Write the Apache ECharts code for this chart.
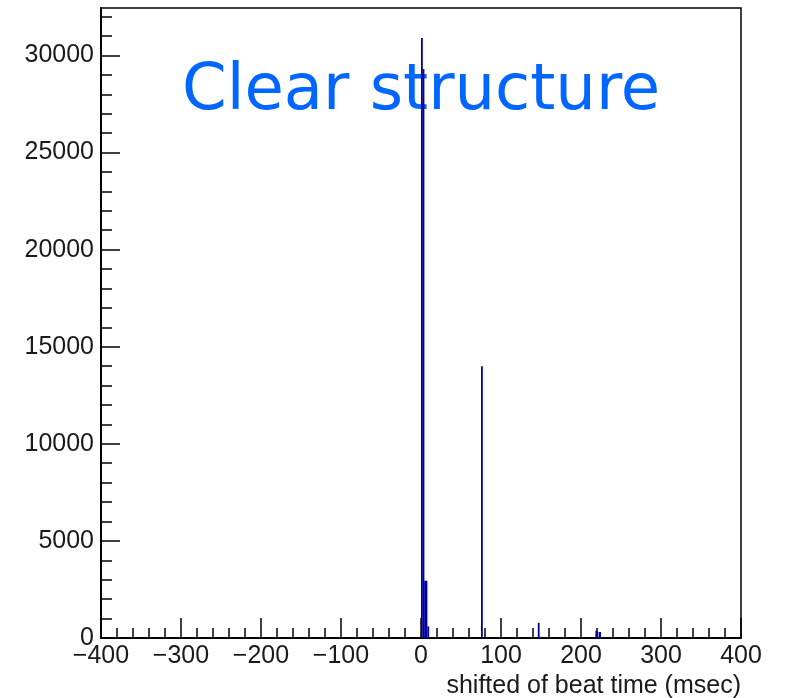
<!DOCTYPE html>
<html>
<head>
<meta charset="utf-8">
<script src="https://cdn.jsdelivr.net/npm/echarts@6/dist/echarts.min.js"></script>
<style>
html,body{margin:0;padding:0;background:#fff;}
#chart{width:786px;height:698px;}
</style>
</head>
<body>
<div id="chart"></div>
<script>
// Histogram bins (msec) and counts; only non-empty bins are listed
var binLow  = [0,     2,     4,    8,   75,    146, 148, 218, 222];
var binHigh = [2,     4,     8,    10,  77,    148, 150, 221, 225];
var counts  = [30900, 29300, 2950, 600, 14000, 780, 60,  370, 310];

var xMin = -400, xMax = 400, xStep = 100;
var yMin = 0, yMax = 32445, yStep = 5000, yMinorStep = 1000;
var titleText = 'Clear structure';
var xTitle = 'shifted of beat time (msec)';

var yMajor = [];
for (var v = yMin; v <= yMax; v += yStep) yMajor.push(v);
var yMinor = [];
for (var v2 = yMin; v2 <= yMax; v2 += yMinorStep) yMinor.push(v2);

var bins = binLow.map(function (lo, i) { return [lo, binHigh[i], counts[i]]; });

var chart = echarts.init(document.getElementById('chart'), null, {renderer: 'canvas'});
var labelFont = {fontFamily: 'Liberation Sans', fontSize: 25, color: '#1a1a1a'};

chart.setOption({
  animation: false,
  backgroundColor: '#fff',
  grid: {left: 101, right: 45, top: 8, bottom: 60, show: true, borderColor: '#000', borderWidth: 1.5, backgroundColor: 'transparent'},
  xAxis: {
    type: 'value', min: xMin, max: xMax, interval: xStep,
    axisLine: {show: true, onZero: false, lineStyle: {color: '#000', width: 2}},
    axisTick: {show: true, inside: true, length: 20, lineStyle: {color: '#000', width: 1.5}},
    minorTick: {show: true, splitNumber: 5, length: 10, lineStyle: {color: '#000', width: 1.5}},
    splitLine: {show: false}, minorSplitLine: {show: false},
    axisLabel: Object.assign({margin: 6, formatter: function (v) { return String(v).replace('-', '\u2212'); }}, labelFont)
  },
  yAxis: [{
    type: 'value', min: yMin, max: yMax, position: 'left',
    axisLine: {show: true, onZero: false, lineStyle: {color: '#000', width: 2}},
    axisTick: {show: true, inside: true, length: 19, customValues: yMajor, lineStyle: {color: '#000', width: 1.5}},
    splitLine: {show: false},
    axisLabel: Object.assign({margin: 7, customValues: yMajor, formatter: function (v) { return String(v); }}, labelFont)
  }, {
    type: 'value', min: yMin, max: yMax, position: 'left',
    axisLine: {show: false, onZero: false},
    axisTick: {show: true, inside: true, length: 11, customValues: yMinor, lineStyle: {color: '#000', width: 1.5}},
    splitLine: {show: false},
    axisLabel: {show: false}
  }],
  graphic: [{
    type: 'text', left: 182, top: 60, z: 0,
    style: {text: titleText, fontFamily: 'DejaVu Sans', fontSize: 64, fill: '#0066ff'}
  }, {
    type: 'text', right: 45, top: 674,
    style: {text: xTitle, fontFamily: 'Liberation Sans', fontSize: 25, fill: '#1a1a1a'}
  }],
  series: [{
    type: 'custom', z: 5,
    data: bins,
    encode: {x: [0, 1], y: 2},
    renderItem: function (params, api) {
      var p0 = api.coord([api.value(0), api.value(2)]);
      var p1 = api.coord([api.value(1), 0]);
      var w = Math.max(p1[0] - p0[0], 1.8);
      return {type: 'rect', shape: {x: p0[0], y: p0[1], width: w, height: p1[1] - p0[1]},
              style: {fill: '#0000a0'}};
    }
  }]
});
</script>
</body>
</html>
